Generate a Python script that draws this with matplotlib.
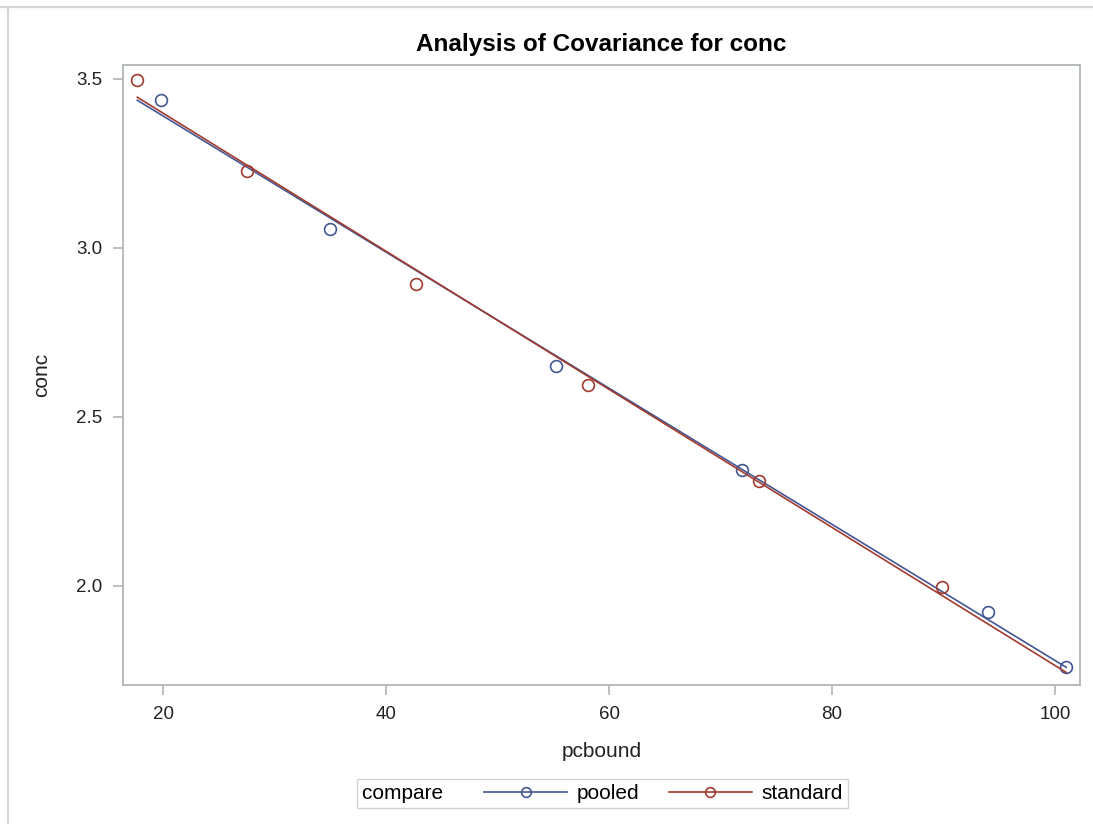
import numpy as np
import matplotlib
matplotlib.use('Agg')
import matplotlib.pyplot as plt
from matplotlib.lines import Line2D

plt.rcParams['font.family'] = ['Liberation Sans', 'DejaVu Sans']

# datos
x_pooled = [19.8, 34.98, 55.2, 71.9, 93.95, 101.0]
y_pooled = [3.436, 3.056, 2.650, 2.343, 1.921, 1.760]
x_standard = [17.67, 27.48, 42.66, 58.12, 73.45, 89.87]
y_standard = [3.497, 3.228, 2.894, 2.595, 2.311, 1.997]

azul = '#445694'
rojo = '#A23A2E'
gris = '#B0B5B9'

fig = plt.figure(figsize=(10.93, 8.24), dpi=100)
ax = fig.add_axes([0.1128, 0.1687, 0.8753, 0.7524])

# rango comun para las rectas de ajuste
xmin = min(min(x_pooled), min(x_standard))
xmax = max(max(x_pooled), max(x_standard))
xr = np.array([xmin, xmax])

for xs, ys, c in [(x_pooled, y_pooled, azul), (x_standard, y_standard, rojo)]:
    m, b = np.polyfit(xs, ys, 1)
    ax.plot(xr, m*xr + b, color=c, lw=1.2)
    ax.plot(xs, ys, 'o', mfc='none', mec=c, ms=8.5, mew=1.2)

ax.set_xlim(16.41, 102.24)
ax.set_ylim(1.706, 3.541)
ax.set_xticks([20, 40, 60, 80, 100])
ax.set_yticks([2.0, 2.5, 3.0, 3.5])
ax.set_yticklabels(['2.0', '2.5', '3.0', '3.5'])
for s in ax.spines.values():
    s.set_color(gris)
    s.set_linewidth(1.3)
ax.tick_params(colors=gris, labelcolor='#222222', labelsize=13.5, length=7, width=1.2, pad=8)

ax.set_xlabel('pcbound', fontsize=15, color='#222222', labelpad=14)
ax.set_ylabel('conc', fontsize=15, color='#222222', labelpad=18)
ax.set_title('Analysis of Covariance for conc', fontsize=17.5, fontweight='bold', pad=10)

handles = [Line2D([], [], color=azul, lw=1.2, marker='o', mfc='none', mec=azul, ms=7, mew=1.2),
           Line2D([], [], color=rojo, lw=1.2, marker='o', mfc='none', mec=rojo, ms=7, mew=1.2)]
leg = fig.legend(handles, ['pooled', 'standard'], title='compare  ', ncol=2,
                 loc='center', bbox_to_anchor=(602.5/1093, 1 - 793.5/824),
                 fontsize=15, title_fontsize=15, frameon=True, fancybox=False,
                 handlelength=4.0, handletextpad=0.45, columnspacing=1.0,
                 borderpad=0.25, edgecolor='#C8C8C8')
leg.get_frame().set_linewidth(1.0)
# titulo de la leyenda al costado
caja = leg.get_children()[0]
titulo = caja.get_children()[0]
fila = caja.get_children()[1]
caja._children = [fila]
fila._children = [titulo] + fila.get_children()
fila.sep = 21

# marco gris exterior
fig.add_artist(Line2D([0, 1], [1 - 6.5/824, 1 - 6.5/824], color='#D6D6D6', lw=1.6))
fig.add_artist(Line2D([8/1093, 8/1093], [0, 1 - 6.5/824], color='#D6D6D6', lw=1.6))

fig.savefig('out.png', dpi=100)
